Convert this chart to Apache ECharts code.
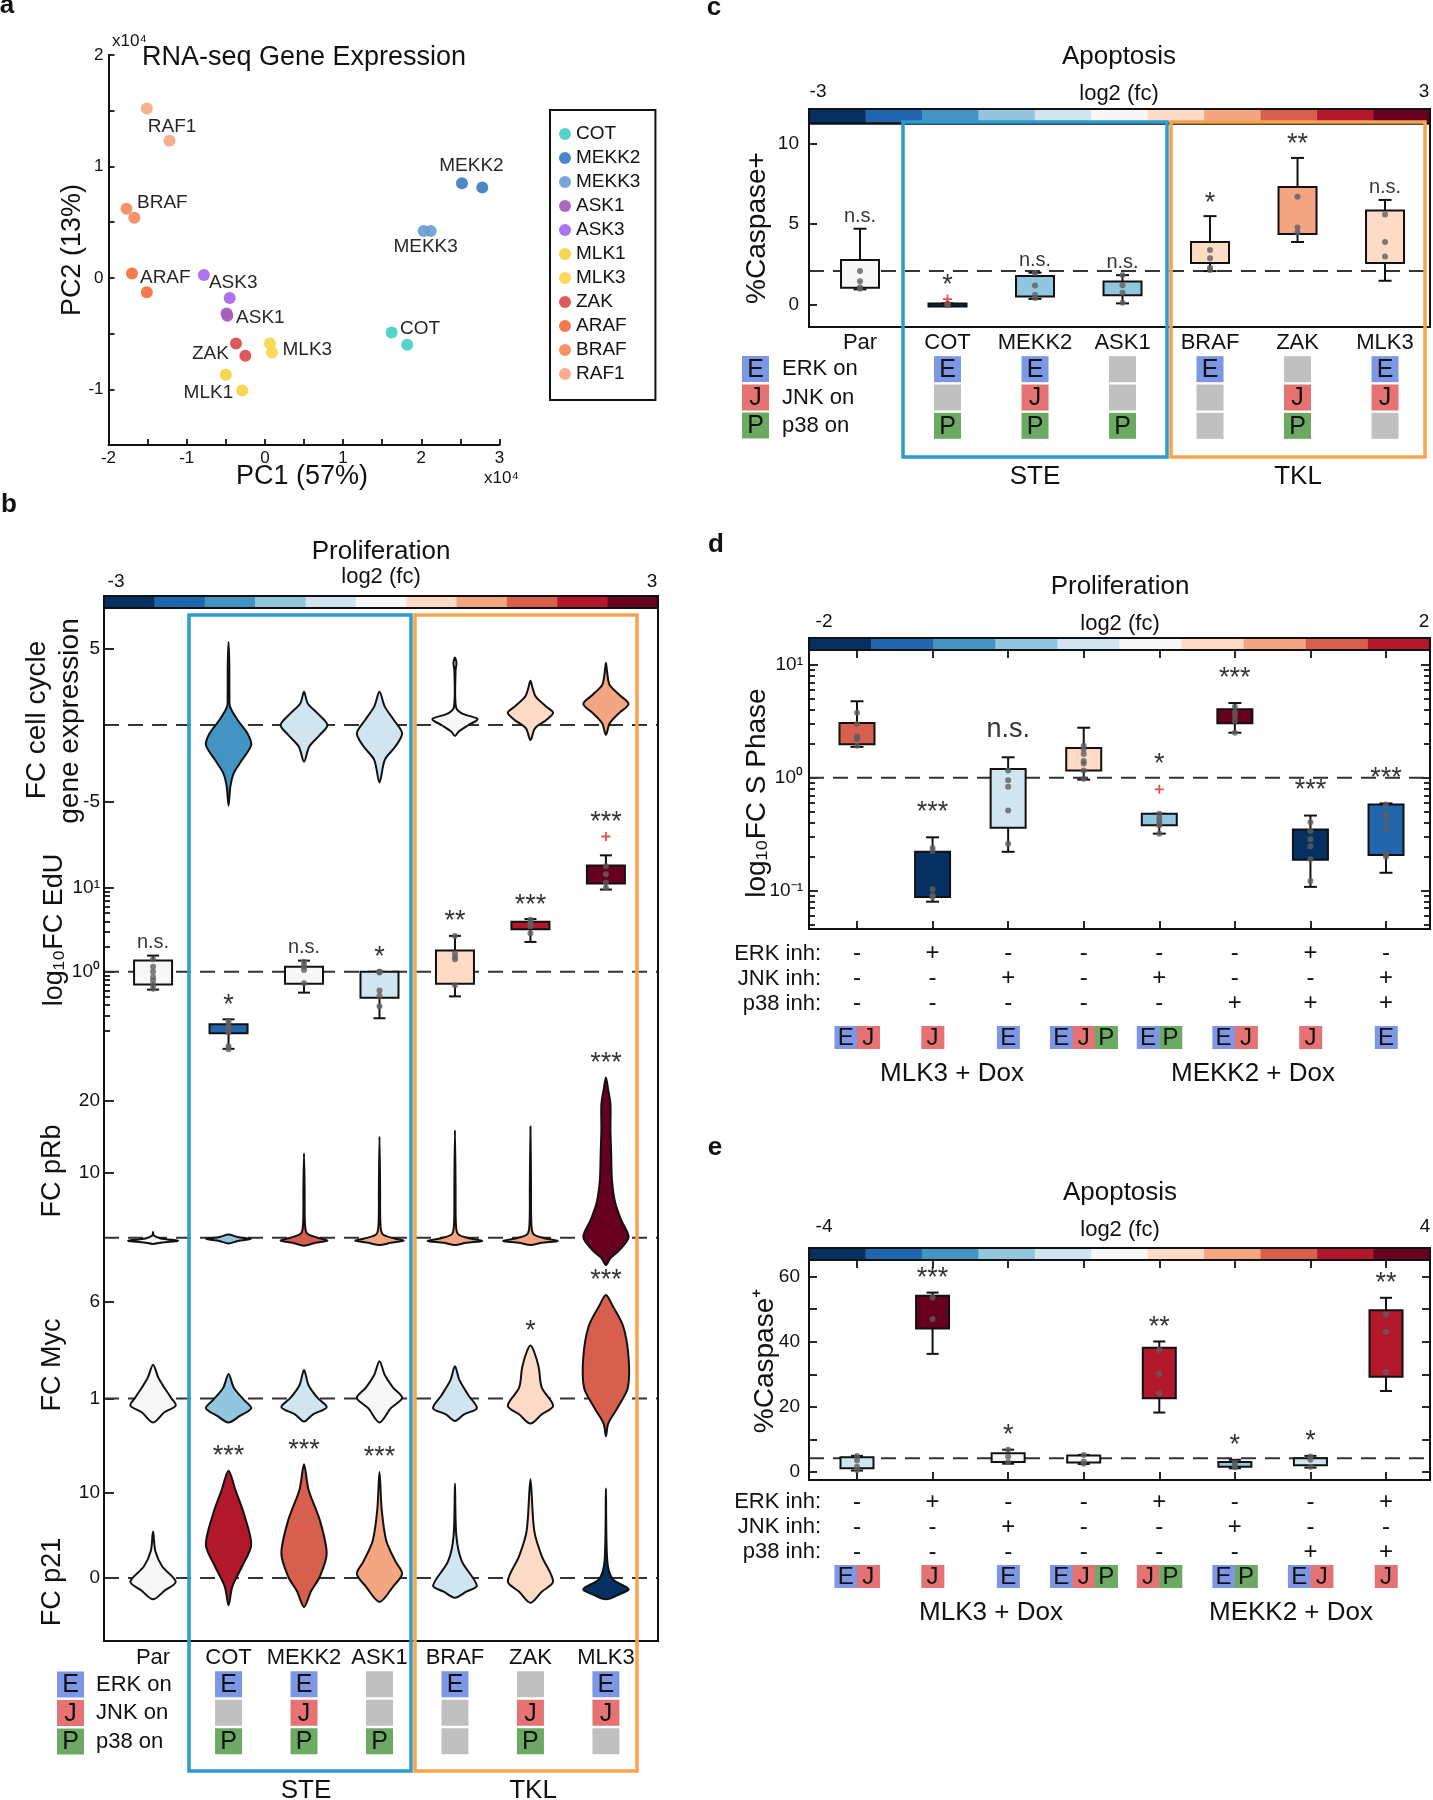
<!DOCTYPE html>
<html><head><meta charset="utf-8">
<script src="https://cdn.jsdelivr.net/npm/echarts@6/dist/echarts.min.js"></script>
<style>html,body{margin:0;padding:0;background:#fff}#chart{width:1433px;height:1800px}</style>
</head><body><div id="chart"></div>
<script>
// ================= DATA =================
// Panel a: PCA of RNA-seq (x10^4)
const pcaGroups = ['COT','MEKK2','MEKK3','ASK1','ASK3','MLK1','MLK3','ZAK','ARAF','BRAF','RAF1'];
const pcaCoords = [
  [[1.62,-0.49],[1.82,-0.60]],
  [[2.52,0.85],[2.78,0.81]],
  [[2.03,0.42],[2.12,0.42]],
  [[-0.49,-0.32],[-0.48,-0.34]],
  [[-0.78,0.025],[-0.45,-0.18]],
  [[-0.50,-0.87],[-0.29,-1.01]],
  [[0.065,-0.59],[0.09,-0.67]],
  [[-0.37,-0.59],[-0.25,-0.70]],
  [[-1.70,0.04],[-1.51,-0.13]],
  [[-1.77,0.62],[-1.67,0.54]],
  [[-1.51,1.52],[-1.22,1.23]]
];
const pcaXTickVals = [-2,-1.5,-1,-0.5,0,0.5,1,1.5,2,2.5,3];
const pcaXLabelVals = [-2,-1,0,1,2,3];
const pcaYTickVals = [-1.5,-1,-0.5,0,0.5,1,1.5,2];
const pcaYLabelVals = [-1,0,1,2];

// Panels b/c: cell lines and kinase activity
const lines = ['Par','COT','MEKK2','ASK1','BRAF','ZAK','MLK3'];
const erkOn = [null,1,1,0,1,0,1];
const jnkOn = [null,0,1,0,0,1,1];
const p38On = [null,1,1,1,0,1,0];

// Panel c: %Caspase+ boxes [low, q1, q3, high]
const caspBox = [[0.97,1.07,2.78,4.72],[0,0,0.1,0.1],[0.38,0.52,1.8,2.0],[0.1,0.6,1.46,1.85],[2.1,2.6,3.9,5.5],[3.9,4.4,7.3,9.1],[1.5,2.6,5.85,6.5]];
const caspDots = [[2.1,1.47,1.1,1.0],[0,0,0.05,0.1],[1.98,1.2,0.62,0.43],[1.85,1.23,0.76,0.14],[3.4,2.9,2.3,2.16],[6.7,4.8,4.5],[5.6,3.9,3.0]];
const caspOut = [[],[0.37],[],[],[],[],[]];
const caspSig = ['n.s.','*','n.s.','n.s.','*','**','n.s.'];
const caspRef = 2.1;

// Panel b: EdU boxes [low, q1, q3, high]
const eduBox = [[0.614,0.705,1.36,1.56],[0.121,0.185,0.237,0.272],[0.565,0.72,1.15,1.36],[0.28,0.49,1.0,1.0],[0.51,0.72,1.79,2.68],[2.27,3.22,3.94,4.25],[9.55,11.3,18.5,24.4]];
const eduDots = [[1.41,1.15,1.0,0.87,0.79,0.70,0.63],[0.26,0.24,0.22,0.21,0.2,0.19,0.13,0.12],[1.32,1.2,1.15,1.05,0.73],[1.0,1.0,0.98,0.6,0.52,0.39],[2.68,1.66,1.51,1.41,0.69],[4.17,3.87,3.63,3.46,2.88],[18.2,14.5,11.5,10.0]];
const eduOut = [[],[],[],[],[],[],[40.9]];
const eduSig = ['n.s.','*','n.s.','*','**','***','***'];

// Panel b violins: [value, half-width (category units)] from top to bottom
const ccViolins = [
  null,
  [[5.43,0],[4.0,0.01],[2.0,0.012],[1.2,0.02],[0.33,0.12],[-0.54,0.25],[-1.3,0.3],[-2.28,0.18],[-3.15,0.07],[-4.0,0.025],[-5.28,0]],
  [[2.17,0],[1.41,0.05],[0.76,0.18],[0,0.31],[-0.65,0.21],[-1.41,0.07],[-2.39,0]],
  [[2.17,0],[1.2,0.07],[0.33,0.19],[-0.54,0.3],[-1.41,0.21],[-2.28,0.07],[-3.76,0]],
  [[4.41,0],[4.05,0.02],[3.6,0.008],[1.2,0.012],[0.76,0.09],[0.39,0.3],[0,0.18],[-0.43,0.05],[-0.72,0]],
  [[2.89,0],[2.39,0.03],[1.85,0.07],[1.2,0.21],[0.8,0.3],[0.33,0.21],[-0.22,0.06],[-0.98,0]],
  [[4.07,0],[3.37,0.018],[2.61,0.05],[1.96,0.18],[1.37,0.3],[0.76,0.17],[0.11,0.05],[-0.65,0]]
];
const prbViolins = [
  [[1.8,0],[1.3,0.01],[0.9,0.1],[0.6,0.33],[0.35,0.12],[0.15,0]],
  [[1.45,0],[1.1,0.12],[0.85,0.3],[0.55,0.12],[0.2,0]],
  [[12.7,0],[8,0.008],[3,0.012],[1.6,0.04],[1.0,0.18],[0.6,0.31],[0.3,0.15],[-0.1,0]],
  [[15,0],[8,0.008],[3,0.012],[1.5,0.04],[0.9,0.2],[0.6,0.32],[0.3,0.15],[0,0]],
  [[15.9,0],[8,0.008],[3,0.012],[1.5,0.04],[0.9,0.2],[0.55,0.36],[0.3,0.15],[0,0]],
  [[16.4,0],[8,0.008],[3,0.012],[1.5,0.04],[0.9,0.2],[0.55,0.36],[0.3,0.15],[0,0]],
  [[23.2,0],[21.5,0.03],[19.5,0.06],[16,0.06],[12.5,0.07],[9,0.08],[6,0.12],[3.5,0.2],[1.1,0.3],[-0.7,0.18],[-1.8,0.06],[-2.8,0]]
];
const mycViolins = [
  [[2.75,0],[2.08,0.07],[1.56,0.15],[1.03,0.24],[0.63,0.3],[0.29,0.15],[-0.24,0]],
  [[2.27,0],[1.56,0.07],[0.9,0.21],[0.5,0.3],[0.1,0.15],[-0.24,0]],
  [[2.48,0],[1.69,0.06],[1.03,0.18],[0.55,0.3],[0.18,0.12],[-0.19,0]],
  [[2.93,0],[2.22,0.07],[1.56,0.18],[1.03,0.3],[0.5,0.15],[-0.24,0]],
  [[2.67,0],[1.95,0.06],[1.16,0.18],[0.5,0.29],[0.18,0.12],[-0.16,0]],
  [[3.75,0],[3.41,0.05],[2.61,0.11],[1.56,0.15],[0.63,0.3],[0.18,0.15],[-0.3,0]],
  [[6.37,0],[5.79,0.09],[4.73,0.23],[3.14,0.3],[1.56,0.29],[0.5,0.15],[-0.3,0.03],[-0.96,0]]
];
const p21Violins = [
  [[5.45,0],[3.17,0.03],[1.38,0.12],[-0.42,0.3],[-1.5,0.15],[-2.5,0]],
  [[12.6,0],[10.36,0.09],[7.37,0.21],[3.89,0.3],[1.38,0.18],[-1.0,0.05],[-3.2,0]],
  [[13.35,0],[10.36,0.06],[6.77,0.21],[2.87,0.3],[0.18,0.21],[-1.6,0.09],[-3.4,0]],
  [[12.45,0],[7.96,0.03],[4.37,0.09],[1.98,0.21],[0.48,0.3],[-1.0,0.18],[-2.8,0]],
  [[11.1,0],[4.97,0.018],[1.98,0.09],[-0.9,0.29],[-1.6,0.15],[-2.3,0]],
  [[11.6,0],[5.57,0.05],[2.57,0.15],[-0.42,0.3],[-1.6,0.15],[-2.9,0]],
  [[10.5,0],[1.98,0.018],[-0.12,0.09],[-1.3,0.3],[-1.9,0.18],[-2.5,0]]
];
const prbSig = ['','','','','','','***'];
const mycSig = ['','','','','','*','***'];
const p21Sig = ['','***','***','***','','',''];

// Panel d: S phase FC boxes [low, q1, q3, high]
const dBox = [[1.88,1.98,3.06,4.77],[0.0798,0.0877,0.221,0.297],[0.221,0.361,1.20,1.52],[0.964,1.16,1.84,2.78],[0.32,0.38,0.48,0.48],[2.51,3.04,4.06,4.6],[0.108,0.188,0.349,0.463],[0.144,0.207,0.58,0.593]];
const dDots = [[3.78,3.0,2.34,2.27,2.2,1.92],[0.239,0.225,0.103,0.091,0.088],[1.16,0.95,0.834,0.513,0.26],[1.92,1.79,1.63,1.41,1.34,1.16,0.98],[0.48,0.446,0.418,0.389,0.38,0.32],[4.27,3.83,3.51,3.19,2.51],[0.403,0.337,0.285,0.248,0.19,0.122],[0.58,0.473,0.418,0.354,0.21,0.2]];
const dOut = [[],[],[],[],[0.79],[],[],[]];
const dSig = ['','***','n.s.','','*','***','***','***'];
const dErkInh = ['-','+','-','-','-','-','+','-'];
const dJnkInh = ['-','-','+','-','+','-','-','+'];
const dP38Inh = ['-','-','-','-','-','+','+','+'];
const dActive = ['EJ','J','E','EJP','EP','EJ','J','E'];

// Panel e: %Caspase+ boxes [low, q1, q3, high]
const eBox = [[0.5,1.2,4.6,5.0],[36.3,44.1,54.1,55.1],[2.6,3.1,5.8,6.9],[2.5,3.0,5.1,5.3],[18.3,22.7,38.2,40.1],[1.2,1.7,3.1,3.8],[1.4,2.1,4.3,5.0],[24.9,29.3,49.7,53.5]];
const eDots = [[5.0,3.6,1.7,0.7],[53.6,47.0],[6.9,4.8,3.1],[5.3,3.3,2.6],[37.5,30.1,24.2],[3.0,2.2,1.5],[4.8,3.8,1.7],[48.4,43.1,30.7]];
const eSig = ['','***','*','','**','*','*','**'];
const eRef = 4.3;
const eErkInh = ['-','+','-','-','+','-','-','+'];
const eJnkInh = ['-','-','+','-','-','+','-','-'];
const eP38Inh = ['-','-','-','-','-','-','+','+'];
const eActive = ['EJ','J','E','EJP','JP','EP','EJ','J'];

// ================= STYLES =================
const FONT = '"Liberation Sans", Arial, Helvetica, sans-serif';
const INK = '#111';
const RDBU = ['#053061','#2166ac','#4393c3','#92c5de','#d1e5f0','#f7f7f7','#fddbc7','#f4a582','#d6604d','#b2182b','#67001f'];
const pcaColors = ['#45cfc6','#3c7ec6','#6b9dd6','#a65cb9','#a866ee','#f7d33e','#f9d74b','#d94b4f','#f36e3c','#f78a5c','#f9a884'];
const pcaLabelCfg = {
  COT:{i:0,a:'left',dx:8.5,dy:-4}, MEKK2:{i:0,a:'center',dx:9.5,dy:-17}, MEKK3:{i:0,a:'center',dx:2,dy:16},
  ASK1:{i:0,a:'left',dx:9.5,dy:4}, ASK3:{i:0,a:'left',dx:5,dy:8}, MLK1:{i:1,a:'right',dx:-9,dy:2},
  MLK3:{i:0,a:'left',dx:12.5,dy:6}, ZAK:{i:0,a:'right',dx:-7,dy:10}, ARAF:{i:0,a:'left',dx:8,dy:4},
  BRAF:{i:0,a:'left',dx:10.5,dy:-6}, RAF1:{i:0,a:'left',dx:1,dy:18}
};
const caspFill = [5,0,3,3,6,7,6].map(i=>RDBU[i]);
const eduFill = [5,1,5,4,6,9,10].map(i=>RDBU[i]);
const ccFill = [null,2,4,4,5,6,7].map(i=>i==null?null:RDBU[i]);
const prbFill = [5,3,8,7,7,7,10].map(i=>RDBU[i]);
const mycFill = [5,3,4,5,4,6,8].map(i=>RDBU[i]);
const p21Fill = [5,9,8,7,4,6,0].map(i=>RDBU[i]);
const dFill = [8,0,4,6,3,10,0,1].map(i=>RDBU[i]);
const eFill = [4,10,5,5,9,3,4,9].map(i=>RDBU[i]);
const BADGE = {E:'#7d96e6', J:'#e57373', P:'#6caa64', off:'#c0c0c0'};
const STE_C = '#2b9bd0', TKL_C = '#f8a24c';
const NS = 20, STAR = 27;

// ================= BUILDERS =================
const grids=[], xAxes=[], yAxes=[], series=[], gfx=[];
const baseAx = {splitLine:{show:false}, axisLine:{show:false,onZero:false}, axisTick:{show:false}, axisLabel:{show:false}};
function G(l,t,w,h,ex){grids.push(Object.assign({left:l,top:t,width:w,height:h},ex||{}));return grids.length-1;}
function X(c){xAxes.push(Object.assign({type:'value'},baseAx,c));return xAxes.length-1;}
function Y(c){yAxes.push(Object.assign({type:'value'},baseAx,c));return yAxes.length-1;}
const BORDER = {show:true, borderColor:INK, borderWidth:2, z:10};
const LINE = {show:true,onZero:false,lineStyle:{color:INK,width:2}};
function ticks(vals,len){return {show:true,inside:true,length:len,customValues:vals,lineStyle:{color:INK,width:1.8}};}
function labels(vals,fmt,size,margin){return {show:true,customValues:vals,formatter:fmt,fontSize:size,fontFamily:FONT,color:INK,margin:margin};}
function T(text,x,y,size,o){o=o||{};const al=o.align||'center';
  return {type:'text',x:x,y:y,rotation:o.rot||0,z:100,silent:true,
    style:{text:text,x:0,y:0,fontSize:size,fontFamily:FONT,fontWeight:o.bold?'bold':'normal',fill:INK,
      textAlign:al,textVerticalAlign:'middle',align:al,verticalAlign:'middle'}};}
function R(x,y,w,h,stroke,lw){return {type:'rect',z:100,silent:true,shape:{x:x,y:y,width:w,height:h},style:{fill:'none',stroke:stroke,lineWidth:lw}};}
const sup = {'0':'⁰','1':'¹','-':'⁻'};
const pow10 = v => '10' + String(Math.round(v)).split('').map(c=>sup[c]).join('');
const minorLogs = (lo,hi) => { const out=[]; for(let n=-3;n<=2;n++) for(let k=2;k<=9;k++){const v=Math.log10(k*Math.pow(10,n)); if(v>lo&&v<hi) out.push(v);} return out; };
const id = v => v, lg = v => Math.log10(v);

function colorbar(l,t,w,h,colors,vmin,vmax){
  const g=G(l,t,w,h,BORDER);
  const xi=X({gridIndex:g,min:vmin,max:vmax}), yi=Y({gridIndex:g,min:0,max:1});
  series.push({type:'custom',xAxisIndex:xi,yAxisIndex:yi,silent:true,z:2,
    data:colors.map((c,i)=>({value:[i,0],itemStyle:{color:c}})),
    renderItem:(p,api)=>{const n=colors.length,i=api.value(0);
      const a=vmin+(vmax-vmin)*i/n,b=vmin+(vmax-vmin)*(i+1)/n;
      const p0=api.coord([a,1]),p1=api.coord([b,0]);
      return {type:'rect',shape:{x:p0[0],y:p0[1],width:p1[0]-p0[0]+0.6,height:p1[1]-p0[1]},style:{fill:api.visual('color')}};}});
}
function baseline(xi,yi,xr,v){
  series.push({type:'line',xAxisIndex:xi,yAxisIndex:yi,data:[[xr[0],v],[xr[1],v]],symbol:'none',silent:true,z:1,
    lineStyle:{color:'#333',width:2,type:[15,9]}});
}
function boxes(xi,yi,bx,fills,tf,boxW,capW){
  series.push({type:'custom',xAxisIndex:xi,yAxisIndex:yi,silent:true,z:3,clip:false,
    data:bx.map((b,i)=>({value:[i,tf(b[0]),tf(b[1]),tf(b[2]),tf(b[3])],itemStyle:{color:fills[i]}})),
    renderItem:(p,api)=>{
      const x=api.value(0);
      const lo=api.coord([x,api.value(1)]),q1=api.coord([x,api.value(2)]),q3=api.coord([x,api.value(3)]),hi=api.coord([x,api.value(4)]);
      const cx=lo[0], st={stroke:INK,lineWidth:2};
      return {type:'group',children:[
        {type:'line',shape:{x1:cx,y1:hi[1],x2:cx,y2:q3[1]},style:st},
        {type:'line',shape:{x1:cx,y1:q1[1],x2:cx,y2:lo[1]},style:st},
        {type:'line',shape:{x1:cx-capW/2,y1:hi[1],x2:cx+capW/2,y2:hi[1]},style:st},
        {type:'line',shape:{x1:cx-capW/2,y1:lo[1],x2:cx+capW/2,y2:lo[1]},style:st},
        {type:'rect',shape:{x:cx-boxW/2,y:q3[1],width:boxW,height:Math.max(q1[1]-q3[1],3)},style:{fill:api.visual('color'),stroke:INK,lineWidth:2}}
      ]};
    }});
}
function dots(xi,yi,d,tf){
  const data=[]; d.forEach((arr,i)=>arr.forEach(v=>data.push([i,tf(v)])));
  series.push({type:'scatter',xAxisIndex:xi,yAxisIndex:yi,data:data,symbolSize:6,silent:true,z:5,clip:false,itemStyle:{color:'#5f5f5f'}});
}
function outliers(xi,yi,d,tf){
  const data=[]; d.forEach((arr,i)=>arr.forEach(v=>data.push([i,tf(v)])));
  series.push({type:'scatter',xAxisIndex:xi,yAxisIndex:yi,data:data,symbol:'path://M4,0H6V4H10V6H6V10H4V6H0V4H4Z',symbolSize:9,silent:true,z:5,clip:false,itemStyle:{color:'#e3261f'}});
}
function sigs(xi,yi,sig,anchors,dist,nsSize,starSize){
  const data=[]; sig.forEach((s,i)=>{ if(s) data.push({value:[i,anchors[i]],name:s,label:{fontSize:s==='n.s.'?nsSize:starSize,distance:s==='n.s.'?dist:dist-3}}); });
  series.push({type:'scatter',xAxisIndex:xi,yAxisIndex:yi,data:data,symbolSize:1,silent:true,z:6,clip:false,
    itemStyle:{color:'rgba(0,0,0,0)'},
    label:{show:true,position:'top',formatter:p=>p.name,color:'#000',fontFamily:FONT}});
}
function violins(xi,yi,profiles,fills){
  const data=[]; profiles.forEach((pr,i)=>{ if(pr) data.push({value:[i,pr[0][0]],itemStyle:{color:fills[i]}}); });
  series.push({type:'custom',xAxisIndex:xi,yAxisIndex:yi,silent:true,z:3,clip:false,data:data,
    renderItem:(p,api)=>{
      const i=api.value(0), pr=profiles[i];
      const right=pr.map(([v,h])=>api.coord([i+h,v]));
      const left=pr.slice(1,-1).reverse().map(([v,h])=>api.coord([i-h,v]));
      return {type:'polygon',shape:{points:right.concat(left),smooth:0.3},style:{fill:api.visual('color'),stroke:INK,lineWidth:2}};
    }});
}
function kinaseBadges(l,t,w,h,xr){
  const g=G(l,t,w,h);
  const xi=X({gridIndex:g,min:xr[0],max:xr[1]});
  const yi=Y({gridIndex:g,type:'category',data:['E','J','P'],inverse:true});
  const rows=[erkOn,jnkOn,p38On], letters=['E','J','P'], data=[];
  lines.forEach((n,i)=>{ if(erkOn[i]==null) return; rows.forEach((row,r)=>data.push([i,r,row[i]])); });
  series.push({type:'custom',xAxisIndex:xi,yAxisIndex:yi,silent:true,z:4,clip:false,data:data,
    renderItem:(p,api)=>{
      const i=api.value(0),r=api.value(1),on=api.value(2),pt=api.coord([i,r]);
      const L=letters[r], cw=27, ch=26;
      const kids=[{type:'rect',shape:{x:pt[0]-cw/2,y:pt[1]-ch/2,width:cw,height:ch},style:{fill:on?BADGE[L]:BADGE.off}}];
      if(on) kids.push({type:'text',style:{text:L,x:pt[0],y:pt[1]+1,fontSize:25,fontFamily:FONT,fill:INK,textAlign:'center',textVerticalAlign:'middle',align:'center',verticalAlign:'middle'}});
      return {type:'group',children:kids};
    }});
}
function comboBadges(l,t,w,h,xr,active){
  const g=G(l,t,w,h);
  const xi=X({gridIndex:g,min:xr[0],max:xr[1]});
  const yi=Y({gridIndex:g,type:'category',data:['active']});
  series.push({type:'custom',xAxisIndex:xi,yAxisIndex:yi,silent:true,z:4,clip:false,
    data:active.map((s,i)=>[i,0]),
    renderItem:(p,api)=>{
      const i=api.value(0),s=active[i],pt=api.coord([i,0]),cw=22.5,ch=h;
      const x0=pt[0]-s.length*cw/2, kids=[];
      s.split('').forEach((L,k)=>{
        kids.push({type:'rect',shape:{x:x0+k*cw,y:pt[1]-ch/2,width:cw+0.5,height:ch},style:{fill:BADGE[L]}});
        kids.push({type:'text',style:{text:L,x:x0+k*cw+cw/2,y:pt[1]+1,fontSize:24,fontFamily:FONT,fill:INK,textAlign:'center',textVerticalAlign:'middle',align:'center',verticalAlign:'middle'}});
      });
      return {type:'group',children:kids};
    }});
}
function signRows(l,t,w,h,xr,rows){
  const g=G(l,t,w,h);
  const xi=X({gridIndex:g,min:xr[0],max:xr[1]});
  const yi=Y({gridIndex:g,type:'category',data:['ERK','JNK','p38'],inverse:true});
  const data=[]; rows.forEach((row,r)=>row.forEach((s,i)=>data.push({value:[i,r],name:s})));
  series.push({type:'custom',xAxisIndex:xi,yAxisIndex:yi,silent:true,clip:false,data:data,
    renderItem:(p,api)=>{const pt=api.coord([api.value(0),api.value(1)]);const s=data[p.dataIndex].name;
      return {type:'text',style:{text:s,x:pt[0],y:pt[1],fontSize:24,fontFamily:FONT,fill:INK,textAlign:'center',textVerticalAlign:'middle',align:'center',verticalAlign:'middle'}};}});
}

// ================= PANEL a =================
const gA = G(108.5,55,391,390);
const xA = X({gridIndex:gA,min:-2,max:3,axisLine:LINE,
  axisTick:ticks(pcaXTickVals,6),axisLabel:labels(pcaXLabelVals,v=>String(v),17,5)});
const yA = Y({gridIndex:gA,min:-1.5,max:2,axisLine:LINE,
  axisTick:ticks(pcaYTickVals,6),axisLabel:labels(pcaYLabelVals,v=>String(v),17,5)});
pcaGroups.forEach((name,gi)=>{
  const cfg=pcaLabelCfg[name];
  series.push({type:'scatter',name:name,xAxisIndex:xA,yAxisIndex:yA,symbolSize:12,z:4,
    itemStyle:{color:pcaColors[gi],opacity:0.92},
    data:pcaCoords[gi].map((c,k)=>{
      const item={value:c};
      if(k===cfg.i) item.label={show:true,formatter:name,position:[6+cfg.dx,6+cfg.dy],align:cfg.a,verticalAlign:'middle',fontSize:19,fontFamily:FONT,color:INK};
      return item;
    })});
});
gfx.push(T('a',7,6,26,{bold:true}));
gfx.push(T('RNA-seq Gene Expression',304,58,27));
gfx.push(T('x10⁴',112,41,17,{align:'left'}));
gfx.push(T('x10⁴',484,478,17,{align:'left'}));
gfx.push(T('PC1 (57%)',302,477,27));
gfx.push(T('PC2 (13%)',73,250,27,{rot:Math.PI/2}));

// ================= PANEL b =================
const xrB = [-0.65,6.69];
colorbar(104,596,554,12,RDBU,-3,3);
const gBF = G(104,608,554,1033,BORDER);
const xBF = X({gridIndex:gBF,min:xrB[0],max:xrB[1],axisLabel:labels([0,1,2,3,4,5,6],v=>lines[Math.round(v)],22,6)});
Y({gridIndex:gBF,min:0,max:1});
// cell cycle
const gCC = G(104,618,554,214);
const xCC = X({gridIndex:gCC,min:xrB[0],max:xrB[1]});
const yCC = Y({gridIndex:gCC,min:-7,max:7,position:'left',axisTick:ticks([-5,5],10),axisLabel:labels([-5,5],v=>String(v),19,4)});
baseline(xCC,yCC,xrB,0);
violins(xCC,yCC,ccViolins,ccFill);
// EdU (log10)
const gED = G(104,840,554,220);
const xED = X({gridIndex:gED,min:xrB[0],max:xrB[1]});
const yED = Y({gridIndex:gED,min:-1.05,max:1.57,position:'left',axisTick:ticks([0,1],10),axisLabel:labels([0,1],pow10,19,4)});
Y({gridIndex:gED,min:-1.05,max:1.57,position:'left',axisTick:ticks(minorLogs(-0.75,0.99),6)});
baseline(xED,yED,xrB,0);
boxes(xED,yED,eduBox,eduFill,lg,38,12);
dots(xED,yED,eduDots,lg);
outliers(xED,yED,eduOut,lg);
sigs(xED,yED,eduSig,eduBox.map((b,i)=>lg(Math.max(b[3],...(eduOut[i].length?eduOut[i]:[0])))),3,NS,STAR);
// pRb
const gRB = G(104,1065,554,200);
const xRB = X({gridIndex:gRB,min:xrB[0],max:xrB[1]});
const yRB = Y({gridIndex:gRB,min:-2.77,max:24.93,position:'left',axisTick:ticks([10,20],10),axisLabel:labels([10,20],v=>String(v),19,4)});
baseline(xRB,yRB,xrB,1);
violins(xRB,yRB,prbViolins,prbFill);
sigs(xRB,yRB,prbSig,prbViolins.map(p=>p[0][0]),3,NS,STAR);
// Myc
const gMY = G(104,1265,554,175);
const xMY = X({gridIndex:gMY,min:xrB[0],max:xrB[1]});
const yMY = Y({gridIndex:gMY,min:-1.15,max:7.92,position:'left',axisTick:ticks([1,6],10),axisLabel:labels([1,6],v=>String(v),19,4)});
baseline(xMY,yMY,xrB,1);
violins(xMY,yMY,mycViolins,mycFill);
sigs(xMY,yMY,mycSig,mycViolins.map(p=>p[0][0]),3,NS,STAR);
// p21
const gP21 = G(104,1440,554,201);
const xP21 = X({gridIndex:gP21,min:xrB[0],max:xrB[1]});
const yP21 = Y({gridIndex:gP21,min:-7.39,max:16.2,position:'left',axisTick:ticks([0,10],10),axisLabel:labels([0,10],v=>String(v),19,4)});
baseline(xP21,yP21,xrB,0);
violins(xP21,yP21,p21Violins,p21Fill);
sigs(xP21,yP21,p21Sig,p21Violins.map(p=>p[0][0]),3,NS,STAR);
kinaseBadges(104,1670,554,85.5,xrB);
gfx.push(T('b',9,505,26,{bold:true}));
gfx.push(T('Proliferation',381,552,26));
gfx.push(T('log2 (fc)',381,577,22));
gfx.push(T('-3',116,582,19));
gfx.push(T('3',652,582,19));
gfx.push(T('FC cell cycle',37,720,28,{rot:Math.PI/2}));
gfx.push(T('gene expression',70,721,28,{rot:Math.PI/2}));
gfx.push(T('log₁₀FC EdU',55,930,27,{rot:Math.PI/2}));
gfx.push(T('FC pRb',53,1171,27,{rot:Math.PI/2}));
gfx.push(T('FC Myc',53,1365,27,{rot:Math.PI/2}));
gfx.push(T('FC p21',53,1582,27,{rot:Math.PI/2}));
gfx.push(R(189,615,222,1156,STE_C,3.5));
gfx.push(R(415,615,222,1156,TKL_C,3.5));
gfx.push(T('STE',306,1791,26));
gfx.push(T('TKL',533,1791,26));
[['E','ERK on',1684.5],['J','JNK on',1713],['P','p38 on',1741.5]].forEach(([L,txt,y])=>{
  gfx.push({type:'rect',z:100,silent:true,shape:{x:57,y:y-13,width:27,height:26},style:{fill:BADGE[L]}});
  gfx.push(T(L,70.5,y+1,25));
  gfx.push(T(txt,96,y,22,{align:'left'}));
});

// ================= PANEL c =================
const xrC = [-0.583,6.514];
colorbar(809,109,621,14.5,RDBU,-3,3);
const gC = G(809,123.5,621,203.5,BORDER);
const xC = X({gridIndex:gC,min:xrC[0],max:xrC[1],axisLabel:labels([0,1,2,3,4,5,6],v=>lines[Math.round(v)],22,5)});
const yC = Y({gridIndex:gC,min:-1.36,max:11.23,position:'left',axisTick:ticks([0,5,10],8),axisLabel:labels([0,5,10],v=>String(v),19,10)});
baseline(xC,yC,xrC,caspRef);
boxes(xC,yC,caspBox,caspFill,id,38,13);
dots(xC,yC,caspDots,id);
outliers(xC,yC,caspOut,id);
sigs(xC,yC,caspSig,caspBox.map((b,i)=>Math.max(b[3],...(caspOut[i].length?caspOut[i]:[0]))),2,NS,STAR);
kinaseBadges(809,355,621,85,xrC);
gfx.push(T('c',714,8,26,{bold:true}));
gfx.push(T('Apoptosis',1119,57,26));
gfx.push(T('log2 (fc)',1119,94,22));
gfx.push(T('-3',818,92,19));
gfx.push(T('3',1424,92,19));
gfx.push(T('%Caspase+',757,228,28,{rot:Math.PI/2}));
gfx.push(R(903,122,264,335,STE_C,3.5));
gfx.push(R(1171,122,254,335,TKL_C,3.5));
gfx.push(T('STE',1035,477,26));
gfx.push(T('TKL',1298,477,26));
[['E','ERK on',369],['J','JNK on',397.5],['P','p38 on',425.5]].forEach(([L,txt,y])=>{
  gfx.push({type:'rect',z:100,silent:true,shape:{x:742,y:y-13,width:27,height:26},style:{fill:BADGE[L]}});
  gfx.push(T(L,755.5,y+1,25));
  gfx.push(T(txt,782,y,22,{align:'left'}));
});

// ================= PANEL d =================
const xrDE = [-0.635,7.582];
const catDE = [0,1,2,3,4,5,6,7];
colorbar(809,638,621,12,RDBU.slice(0,10),-2,2);
const gD = G(809,650,621,279,BORDER);
const xD = X({gridIndex:gD,min:xrDE[0],max:xrDE[1],position:'bottom',axisTick:ticks(catDE,8)});
X({gridIndex:gD,min:xrDE[0],max:xrDE[1],position:'top',axisTick:ticks(catDE,8)});
const dLo=-1.34, dHi=1.133;
const yD = Y({gridIndex:gD,min:dLo,max:dHi,position:'left',axisTick:ticks([-1,0,1],9),axisLabel:labels([-1,0,1],pow10,19,6)});
Y({gridIndex:gD,min:dLo,max:dHi,position:'left',axisTick:ticks(minorLogs(dLo,dHi),6)});
Y({gridIndex:gD,min:dLo,max:dHi,position:'right',axisTick:ticks([-1,0,1],9)});
Y({gridIndex:gD,min:dLo,max:dHi,position:'right',axisTick:ticks(minorLogs(dLo,dHi),6)});
baseline(xD,yD,xrDE,0);
boxes(xD,yD,dBox,dFill,lg,35,13);
dots(xD,yD,dDots,lg);
outliers(xD,yD,dOut,lg);
sigs(xD,yD,dSig,dBox.map((b,i)=>lg(Math.max(b[3],...(dOut[i].length?dOut[i]:[0])))),14,27,STAR);
signRows(809,941,621,75,xrDE,[dErkInh,dJnkInh,dP38Inh]);
comboBadges(809,1026,621,23,xrDE,dActive);
gfx.push(T('d',716,545,26,{bold:true}));
gfx.push(T('Proliferation',1120,587,26));
gfx.push(T('log2 (fc)',1120,624,22));
gfx.push(T('-2',824,622,19));
gfx.push(T('2',1424,622,19));
gfx.push(T('log₁₀FC S Phase',757,793,28,{rot:Math.PI/2}));
gfx.push(T('ERK inh:',821,953.5,22,{align:'right'}));
gfx.push(T('JNK inh:',821,978.5,22,{align:'right'}));
gfx.push(T('p38 inh:',821,1003.5,22,{align:'right'}));
gfx.push(T('MLK3 + Dox',952,1074,26));
gfx.push(T('MEKK2 + Dox',1253,1074,26));

// ================= PANEL e =================
colorbar(809,1248,621,12,RDBU,-4,4);
const gE = G(809,1260,621,220,BORDER);
const xE = X({gridIndex:gE,min:xrDE[0],max:xrDE[1],position:'bottom',axisTick:ticks(catDE,8)});
X({gridIndex:gE,min:xrDE[0],max:xrDE[1],position:'top',axisTick:ticks(catDE,8)});
const eTicks=[0,10,20,30,40,50,60];
const yE = Y({gridIndex:gE,min:-2.4,max:65.1,position:'left',axisTick:ticks(eTicks,8),axisLabel:labels([0,20,40,60],v=>String(v),19,9)});
Y({gridIndex:gE,min:-2.4,max:65.1,position:'right',axisTick:ticks(eTicks,8)});
baseline(xE,yE,xrDE,eRef);
boxes(xE,yE,eBox,eFill,id,33,12);
dots(xE,yE,eDots,id);
sigs(xE,yE,eSig,eBox.map(b=>b[3]),3,NS,STAR);
signRows(809,1490,621,75,xrDE,[eErkInh,eJnkInh,eP38Inh]);
comboBadges(809,1565,621,23,xrDE,eActive);
gfx.push(T('e',715,1148,26,{bold:true}));
gfx.push(T('Apoptosis',1120,1193,26));
gfx.push(T('log2 (fc)',1120,1230,22));
gfx.push(T('-4',824,1227,19));
gfx.push(T('4',1425,1227,19));
gfx.push(T('%Caspase⁺',765,1361,28,{rot:Math.PI/2}));
gfx.push(T('ERK inh:',821,1502,22,{align:'right'}));
gfx.push(T('JNK inh:',821,1527,22,{align:'right'}));
gfx.push(T('p38 inh:',821,1552,22,{align:'right'}));
gfx.push(T('MLK3 + Dox',991,1613,26));
gfx.push(T('MEKK2 + Dox',1291,1613,26));

// ================= RENDER =================
const chart = echarts.init(document.getElementById('chart'), null, {renderer:'canvas', width:1433, height:1800});
chart.setOption({
  animation:false,
  backgroundColor:'#ffffff',
  textStyle:{fontFamily:FONT},
  legend:{data:pcaGroups,orient:'vertical',left:550,top:110,selectedMode:false,
    borderColor:INK,borderWidth:2,padding:[14,15,16,9],itemGap:4,itemWidth:12,itemHeight:12,icon:'circle',
    textStyle:{fontSize:19,fontFamily:FONT,color:INK,lineHeight:20}},
  grid:grids, xAxis:xAxes, yAxis:yAxes, series:series, graphic:gfx
});
</script></body></html>
